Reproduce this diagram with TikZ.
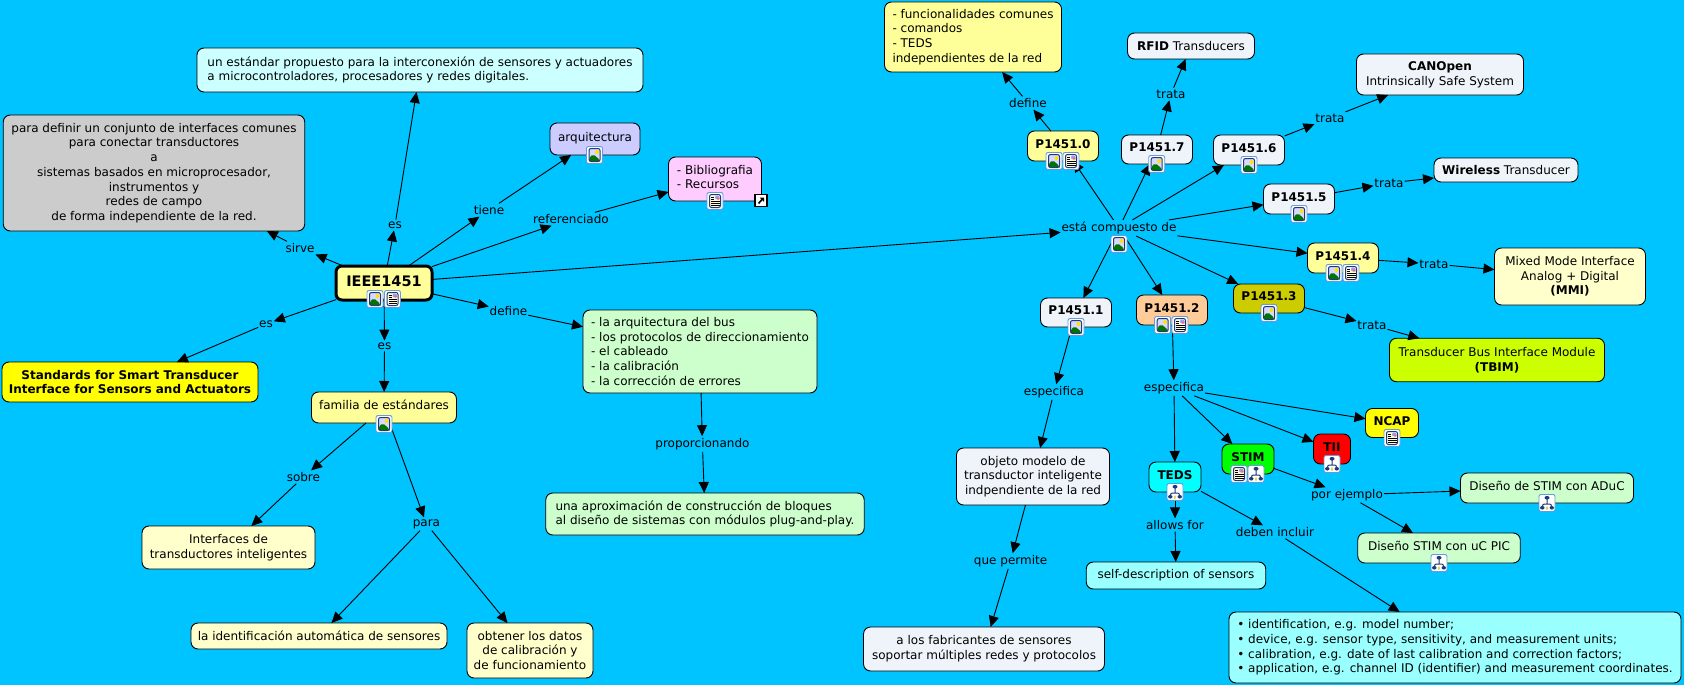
\documentclass[tikz,border=0pt]{standalone}
\usepackage{fontspec}
\setmainfont{DejaVu Sans}
\usetikzlibrary{
    arrows.meta,
    positioning
}
\definecolor{sky back}{HTML}{00C4FF}
\definecolor{pale blue}{HTML}{EEF4F9}
\definecolor{soft yellow}{HTML}{FFFF99}
\definecolor{cream}{HTML}{FFFFCC}
\definecolor{soft cyan}{HTML}{CCFFFF}
\definecolor{mid cyan}{HTML}{99FFFF}
\definecolor{soft green}{HTML}{CCFFCC}
\definecolor{lilac}{HTML}{CCCCFF}
\definecolor{soft pink}{HTML}{FFCCFF}
\definecolor{soft orange}{HTML}{FFCC99}
\definecolor{olive}{HTML}{CCCC00}
\definecolor{lime}{HTML}{CCFF00}
\definecolor{pure yellow}{HTML}{FFFF00}
\definecolor{pure cyan}{HTML}{00FFFF}
\definecolor{pure green}{HTML}{00FF00}
\definecolor{pure red}{HTML}{FF0000}
\definecolor{icon edge}{HTML}{6699DD}
\definecolor{icon navy}{HTML}{1F3A7A}
\tikzset{
    % Concepts
    concept/.style={draw=black,line width=.9pt,rounded corners=7pt,align=center,inner sep=0pt,outer sep=0pt},
    dim/.style 2 args={minimum width=#1pt,minimum height=#2pt},
    has icon/.style={text height=9pt,text depth=5pt},
    strong/.style={font=\fontsize{12}{14.7}\selectfont\bfseries},
    main concept/.style={concept,line width=3pt,rounded corners=6pt,text height=10.6pt,text depth=4pt,font=\fontsize{14.5}{17}\selectfont\bfseries},
    %
    % Link words
    link/.style={inner xsep=1pt,inner ysep=2pt,outer sep=0pt},
    %
    % Arrows
    arrow tip/.tip={Stealth[length=11pt,width=10pt,inset=0pt]},
    arr/.style={->,>={arrow tip},line width=.9pt},
    %
    % Icons
    icon frame/.style={draw=icon edge,fill=white,line width=.9pt,rounded corners=2pt,minimum width=16pt,minimum height=17pt,inner sep=0pt,outer sep=0pt},
    imgicon/.style={icon frame,path picture={
        \begin{scope}[shift={(path picture bounding box.center)},x=1pt,y=-1pt]
            \fill[blue!15!white] (-5.5,-6.5) rectangle (5.5,6.5);
            \fill[green!45!black] (-5.5,6.5) -- (-5.5,3) -- (-1.5,-1) -- (5.5,5) -- (5.5,6.5) -- cycle;
            \fill[yellow!85!orange] (2.5,-3) circle[radius=2pt];
            \draw[icon navy,line width=1pt] (-5.5,-6.5) rectangle (5.5,6.5);
        \end{scope}}},
    docicon/.style={icon frame,path picture={
        \begin{scope}[shift={(path picture bounding box.center)},x=1pt,y=-1pt]
            \fill[yellow!15!white] (-5.5,-6.5) rectangle (5.5,6.5);
            \fill[blue!40!white] (0,-5.5) rectangle (4.5,-1.5);
            \fill[red!60!white] (2,-3.5) rectangle (4.5,-1.5);
            \foreach \y in {-4,-2,0,2,4}{
                \draw[black,line width=.9pt] (-4,\y) -- (\ifnum\y<0 -1\else 4.5\fi,\y);
            }
            \draw[icon navy,line width=1pt] (-5.5,-6.5) rectangle (5.5,6.5);
        \end{scope}}},
    treeicon/.style={icon frame,path picture={
        \begin{scope}[shift={(path picture bounding box.center)},x=1pt,y=-1pt]
            \draw[icon navy,line width=1pt] (0,-4) -- (0,1) (-4.5,4) -- (-4.5,1) -- (4.5,1) -- (4.5,4);
            \fill[icon navy] (-2.5,-7) rectangle (2.5,-3.5) (-7,3) rectangle (-2.5,6.5) (2.5,3) rectangle (7,6.5);
            \fill[yellow!80!black] (-1,3.5) rectangle (1,6.5);
        \end{scope}}},
    lnkicon/.style={draw=black,fill=white,line width=1.2pt,minimum width=12pt,minimum height=12pt,inner sep=0pt,outer sep=0pt,path picture={
        \begin{scope}[shift={(path picture bounding box.center)},x=1pt,y=-1pt]
            \draw[black,line width=1.6pt] (-2.5,3) -- (1,-1);
            \fill[black] (-1.5,-3) -- (3,-3) -- (3,1.5) -- cycle;
        \end{scope}}}
}
\tikzstyle{every node}=[font=\fontsize{12}{14.7}\selectfont]

\begin{document}
\begin{tikzpicture}[x=1pt,y=-1pt]
    \fill[sky back] (0,0) rectangle (1684,685);
    \useasboundingbox (0,0) rectangle (1684,685);
    % Left half
    \node[main concept,dim={96}{34},fill=soft yellow] (ieee) at (384,283) {IEEE1451};
    \node[concept,dim={446}{44},fill=soft cyan,align=left] (estandar) at (420,70) {un estándar propuesto para la interconexión de sensores y actuadores\\a microcontroladores, procesadores y redes digitales.};
    \node[concept,dim={301.5}{116},fill=black!20] (definir) at (154,173) {para definir un conjunto de interfaces comunes\\para conectar transductores\\a\\sistemas basados en microprocesador,\\instrumentos y\\redes de campo\\de forma independiente de la red.};
    \node[concept,dim={90}{32},fill=lilac,has icon] (arquitectura) at (595,139) {arquitectura};
    \node[concept,dim={93}{44},fill=soft pink,align=left,text depth=4pt] (biblio) at (715,179) {- Bibliografia\\- Recursos};
    \node[concept,dim={256}{40},fill=pure yellow,strong] (smart) at (130,382) {Standards for Smart Transducer\\Interface for Sensors and Actuators};
    \node[concept,dim={145}{31},fill=soft yellow,has icon] (familia) at (384,407.5) {familia de estándares};
    \node[concept,dim={234}{83},fill=soft green,align=left] (arqbus) at (700,351.5) {- la arquitectura del bus\\- los protocolos de direccionamiento\\- el cableado\\- la calibración\\- la corrección de errores};
    \node[concept,dim={318.5}{42},fill=soft green,align=left] (bloques) at (705,514) {una aproximación de construcción de bloques\\al diseño de sistemas con módulos plug-and-play.};
    \node[concept,dim={173}{43},fill=cream] (interfaces) at (228.5,547.5) {Interfaces de\\transductores inteligentes};
    \node[concept,dim={256}{26},fill=cream] (identauto) at (319,636) {la identificación automática de sensores};
    \node[concept,dim={126}{55},fill=cream] (obtener) at (530,650.5) {obtener los datos\\de calibración y\\de funcionamiento};
    % Right half
    \node[concept,dim={177}{70},fill=soft yellow,align=left] (comunes) at (973,37) {- funcionalidades comunes\\- comandos\\- TEDS\\independientes de la red};
    \node[concept,dim={127}{26},fill=pale blue] (rfid) at (1191,46) {\textbf{RFID} Transducers};
    \node[concept,dim={167}{41},fill=pale blue] (canopen) at (1440,74.5) {\textbf{CANOpen}\\Intrinsically Safe System};
    \node[concept,dim={144}{24},fill=pale blue] (wireless) at (1506,170) {\textbf{Wireless} Transducer};
    \node[concept,dim={151}{57},fill=cream] (mixed) at (1570,276.5) {Mixed Mode Interface\\Analog + Digital\\\textbf{(MMI)}};
    \node[concept,dim={215}{43.5},fill=lime] (tbim) at (1497,360) {Transducer Bus Interface Module\\\textbf{(TBIM)}};
    \node[concept,dim={71}{30},fill=soft yellow,has icon,strong] (p0) at (1063,146) {P1451.0};
    \node[concept,dim={71}{29},fill=pale blue,has icon,strong] (p7) at (1157,149.5) {P1451.7};
    \node[concept,dim={71}{30},fill=pale blue,has icon,strong] (p6) at (1249,150) {P1451.6};
    \node[concept,dim={71}{30},fill=pale blue,has icon,strong] (p5) at (1299,199) {P1451.5};
    \node[concept,dim={71}{30},fill=soft yellow,has icon,strong] (p4) at (1343,258) {P1451.4};
    \node[concept,dim={71}{29},fill=olive,has icon,strong] (p3) at (1269,298.5) {P1451.3};
    \node[concept,dim={71}{29},fill=pale blue,has icon,strong] (p1) at (1076,312.5) {P1451.1};
    \node[concept,dim={71}{30},fill=soft orange,has icon,strong] (p2) at (1172,310) {P1451.2};
    \node[concept,dim={53}{29},fill=pure yellow,has icon,strong] (ncap) at (1392,423) {NCAP};
    \node[concept,dim={37}{30},fill=pure red,has icon,strong] (tii) at (1332,449) {TII};
    \node[concept,dim={52}{30},fill=pure green,has icon,strong] (stim) at (1248,459) {STIM};
    \node[concept,dim={52}{30},fill=pure cyan,has icon,strong] (teds) at (1175,477) {TEDS};
    \node[concept,dim={153}{57},fill=pale blue] (objeto) at (1033,476.5) {objeto modelo de\\transductor inteligente\\indpendiente de la red};
    \node[concept,dim={179.5}{27},fill=mid cyan] (selfdesc) at (1176,575.5) {self-description of sensors};
    \node[concept,dim={241}{44},fill=pale blue] (fabricantes) at (984,649) {a los fabricantes de sensores\\soportar múltiples redes y protocolos};
    \node[concept,dim={173}{30},fill=soft green,has icon] (aduc) at (1547,488) {Diseño de STIM con ADuC};
    \node[concept,dim={162.5}{30},fill=soft green,has icon] (ucpic) at (1439,548) {Diseño STIM con uC PIC};
    \node[concept,dim={452}{71},fill=mid cyan,align=left] (incluir) at (1455,647.5) {• identification, e.g. model number;\\• device, e.g. sensor type, sensitivity, and measurement units;\\• calibration, e.g. date of last calibration and correction factors;\\• application, e.g. channel ID (identifier) and measurement coordinates.};
    % Link words
    \foreach \name/\x/\y/\txt in {lsirve/300/248/sirve, les/395/225/es, ltiene/489/210/tiene, lref/571/219/referenciado,
        ldefine/508.5/311/define, lesb/266/324/es, lesc/384.5/346/es, lprop/702.4/444/proporcionando,
        lsobre/303.4/477/sobre, lpara/426.4/524/para, lcomp/1119/228/está compuesto de, ldefcero/1028/103/define,
        ltsiete/1171/94/trata, ltseis/1330/118/trata, ltcinco/1389/183/trata, ltcuatro/1434/264/trata, lttres/1372/325/trata,
        lespa/1054/392/especifica, lespb/1174/388/especifica, lpermite/1010.6/561/que permite,
        lallows/1175/525/allows for, ldeben/1275/532/deben incluir, lpor/1347/495/por ejemplo}{
        \node[link] (\name) at (\x,\y) {\txt};
    }
    % Connectors
    \foreach \a/\b in {ieee/lsirve, lsirve/definir, ieee/les, les/estandar, ieee/ltiene, ltiene/arquitectura,
        ieee/lref, lref/biblio, ieee/lcomp, ieee/ldefine, ldefine/arqbus, arqbus/lprop, lprop/bloques,
        ieee/lesb, lesb/smart, ieee/lesc, lesc/familia, familia/lsobre, lsobre/interfaces,
        familia/lpara, lpara/identauto, lpara/obtener,
        lcomp/p0, lcomp/p7, lcomp/p6, lcomp/p5, lcomp/p4, lcomp/p3, lcomp/p2, lcomp/p1,
        p0/ldefcero, ldefcero/comunes, p7/ltsiete, ltsiete/rfid, p6/ltseis, ltseis/canopen,
        p5/ltcinco, ltcinco/wireless, p4/ltcuatro, ltcuatro/mixed, p3/lttres, lttres/tbim,
        p1/lespa, lespa/objeto, objeto/lpermite, lpermite/fabricantes,
        p2/lespb, lespb/teds, lespb/stim, lespb/tii, lespb/ncap,
        teds/lallows, lallows/selfdesc, teds/ldeben, ldeben/incluir,
        stim/lpor, lpor/aduc, lpor/ucpic}{
        \draw[arr] (\a) -- (\b);
    }
    % Icons
    \foreach \name/\x/\y in {iea/375/299, ia/594.5/155, ifa/384/424, icomp/1119/244, ipa/1054/161, ipb/1156.7/164,
        ipc/1249/165, ipd/1299/214, ipe/1334/273, ipf/1269/313, ipg/1076/327, iph/1162.6/325}{
        \node[imgicon] (\name) at (\x,\y) {};
    }
    \foreach \name/\x/\y in {ieb/392.5/299, ibib/715/201, ipi/1071/161, ipj/1351/273, ipk/1180/325, incap/1392/438, istim/1239/474}{
        \node[docicon] (\name) at (\x,\y) {};
    }
    \foreach \name/\x/\y in {itii/1332/464, istimb/1256/474, iteds/1175/492, iaduc/1547/503, iucpic/1439/563}{
        \node[treeicon] (\name) at (\x,\y) {};
    }
    \node[lnkicon] (ilnk) at (761,200.5) {};
\end{tikzpicture}
\end{document}
